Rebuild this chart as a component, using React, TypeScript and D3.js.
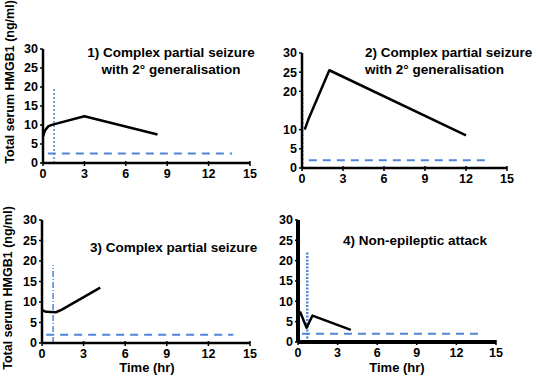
import React from "react";
import * as d3 from "d3";

const xTicks = [0, 3, 6, 9, 12, 15];
const yTicksFull = [0, 5, 10, 15, 20, 25, 30];
const yTicksP2 = [0, 5, 10, 20, 25, 30];

const p1Time = [0, 0.15, 0.4, 0.7, 3, 8.3];
const p1Val = [7, 8.6, 9.7, 10.1, 12.3, 7.5];
const p2Time = [0.2, 0.5, 2, 12];
const p2Val = [10, 13, 25.5, 8.5];
const p3Time = [0, 0.3, 1, 1.4, 4.2];
const p3Val = [8, 7.6, 7.5, 8.1, 13.5];
const p4Time = [0.15, 0.65, 1.1, 4];
const p4Val = [7.5, 3.5, 6.5, 3];

const titles = [
  ["1) Complex partial seizure", "with 2° generalisation"],
  ["2) Complex partial seizure", "with 2° generalisation"],
  ["3) Complex partial seizure"],
  ["4) Non-epileptic attack"],
];
const baselineVals = [2.5, 2, 2, 2];
const baselineStart = [0.35, 0.5, 0.3, 0.3];
const baselineEnd = [13.7, 13.7, 13.8, 14];
const markerTime = [0.8, 0.05, 0.8, 0.7];
const markerTop = [20, 20, 19, 22];
const yLabel = "Total serum HMGB1 (ng/ml)";
const xLabel = "Time (hr)";

const FONT = "Liberation Sans, Arial, sans-serif";
const BLUE = "#4f86d6";

type PanelCfg = {
  x0: number; x1: number; y0: number; y1: number;
  time: number[]; vals: number[]; idx: number; yTicks: number[];
  axisW: number; markerDash: string; titleX: number; titleY: number; anchor: string;
};

function Panel(c: PanelCfg) {
  const x = d3.scaleLinear().domain([0, 15]).range([c.x0, c.x1]);
  const y = d3.scaleLinear().domain([0, 30]).range([c.y0, c.y1]);
  const pts = c.time.map((t, i) => [t, c.vals[i]] as [number, number]);
  const line = d3.line<[number, number]>().x(d => x(d[0])).y(d => y(d[1]));
  const i = c.idx;
  return (
    <g>
      <line x1={x(baselineStart[i])} x2={x(baselineEnd[i])} y1={y(baselineVals[i])} y2={y(baselineVals[i])}
        stroke={BLUE} strokeWidth={2} strokeDasharray="8,6" />
      <line x1={x(markerTime[i])} x2={x(markerTime[i])} y1={y(0)} y2={y(markerTop[i])}
        stroke={BLUE} strokeWidth={i === 3 ? 2.5 : 1.5} strokeDasharray={c.markerDash} />
      <path d={line(pts) || ""} fill="none" stroke="#000" strokeWidth={2.5} strokeLinejoin="round" />
      <line x1={x(0)} x2={x(0)} y1={y(0)} y2={y(30)} stroke="#000" strokeWidth={c.axisW} />
      <line x1={x(0)} x2={x(15)} y1={y(0)} y2={y(0)} stroke="#000" strokeWidth={c.axisW} />
      {c.yTicks.map(t => (
        <g key={"y" + t}>
          <line x1={x(0) - 3} x2={x(0)} y1={y(t)} y2={y(t)} stroke="#000" strokeWidth={1.5} />
          <text x={x(0) - 5} y={y(t)} dy="0.35em" textAnchor="end" fontFamily={FONT} fontWeight="bold" fontSize={12.5}>{t}</text>
        </g>
      ))}
      {xTicks.map(t => (
        <g key={"x" + t}>
          <line x1={x(t)} x2={x(t)} y1={y(0) - 2} y2={y(0) + 3} stroke="#000" strokeWidth={1.5} />
          <text x={x(t)} y={y(0) + 15} textAnchor="middle" fontFamily={FONT} fontWeight="bold" fontSize={12.5}>{t}</text>
        </g>
      ))}
      {titles[i].map((s, k) => (
        <text key={k} x={c.titleX} y={c.titleY + k * 17} textAnchor={c.anchor} fontFamily={FONT} fontWeight="bold" fontSize={13.5}>{s}</text>
      ))}
    </g>
  );
}

export default function App() {
  return (
    <svg width={540} height={376} style={{ position: "absolute", left: 0, top: 0, background: "#fff" }}>
      <rect width={540} height={376} fill="#fff" />
      <Panel x0={43} x1={250} y0={163} y1={49} time={p1Time} vals={p1Val} idx={0} yTicks={yTicksFull}
        axisW={2.5} markerDash="2,2" titleX={171} titleY={57} anchor="middle" />
      <Panel x0={302} x1={507} y0={168} y1={53} time={p2Time} vals={p2Val} idx={1} yTicks={yTicksP2}
        axisW={2.5} markerDash="2,2" titleX={365} titleY={57} anchor="start" />
      <Panel x0={42} x1={250} y0={343} y1={220} time={p3Time} vals={p3Val} idx={2} yTicks={yTicksFull}
        axisW={2.5} markerDash="6,2,1,2" titleX={90} titleY={252} anchor="start" />
      <Panel x0={298} x1={496} y0={342} y1={220} time={p4Time} vals={p4Val} idx={3} yTicks={yTicksFull}
        axisW={4} markerDash="2,1.5" titleX={343} titleY={245} anchor="start" />
      <text transform="translate(14,82) rotate(-90)" textAnchor="middle" fontFamily={FONT} fontWeight="bold" fontSize={12.5}>{yLabel}</text>
      <text transform="translate(12,288) rotate(-90)" textAnchor="middle" fontFamily={FONT} fontWeight="bold" fontSize={12.5}>{yLabel}</text>
      <text x={147} y={372} textAnchor="middle" fontFamily={FONT} fontWeight="bold" fontSize={13}>{xLabel}</text>
      <text x={397} y={372} textAnchor="middle" fontFamily={FONT} fontWeight="bold" fontSize={13}>{xLabel}</text>
    </svg>
  );
}
